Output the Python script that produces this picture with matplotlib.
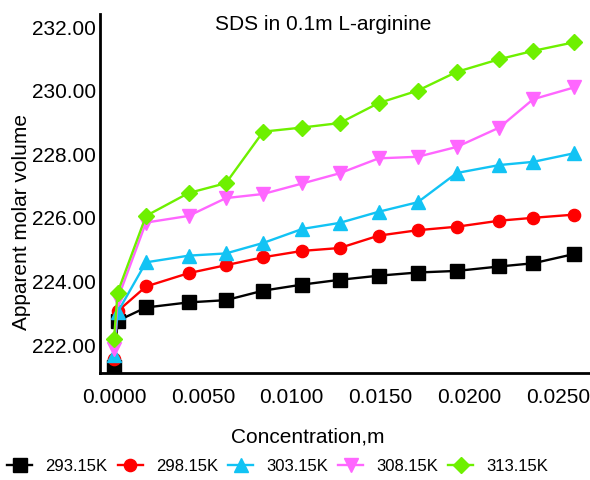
import matplotlib
matplotlib.use('Agg')
import matplotlib.pyplot as plt
from matplotlib.ticker import FormatStrFormatter

plt.rcParams['font.family'] = ['Liberation Sans', 'DejaVu Sans']

# SDS concentration (m) and apparent molar volumes at each temperature
Conc = [0.0, 0.0002, 0.0018, 0.0042, 0.0063, 0.0084, 0.0106, 0.0127,
        0.0149, 0.0171, 0.0193, 0.0217, 0.0236, 0.0259]

V293 = [221.28, 222.73, 223.15, 223.31, 223.38, 223.68, 223.87, 224.02,
        224.15, 224.25, 224.30, 224.44, 224.54, 224.83]
V298 = [221.53, 223.03, 223.81, 224.23, 224.48, 224.73, 224.93, 225.02,
        225.41, 225.58, 225.69, 225.88, 225.97, 226.07]
V303 = [221.65, 223.00, 224.57, 224.78, 224.85, 225.18, 225.62, 225.81,
        226.16, 226.46, 227.38, 227.63, 227.73, 228.00]
V308 = [221.85, 223.41, 225.82, 226.03, 226.59, 226.72, 227.05, 227.37,
        227.84, 227.89, 228.20, 228.81, 229.70, 230.07]
V313 = [222.16, 223.62, 226.03, 226.75, 227.06, 228.68, 228.81, 228.95,
        229.58, 229.97, 230.56, 230.96, 231.22, 231.49]

Temps = ['293.15K', '298.15K', '303.15K', '308.15K', '313.15K']

xTicks = [0.0, 0.005, 0.010, 0.015, 0.020, 0.025]
yTicks = [222, 224, 226, 228, 230, 232]

fig = plt.figure(figsize=(5.9, 4.81), dpi=100)
ax = fig.add_axes([0.1695, 0.2225, 0.8305, 0.7463])

ax.plot(Conc, V293, color='black', marker='s', markersize=9.4, linewidth=1.7, label=Temps[0])
ax.plot(Conc, V298, color='#ff0000', marker='o', markersize=8.8, linewidth=1.7, label=Temps[1])
ax.plot(Conc, V303, color='#12c3f4', marker='^', markersize=10, linewidth=1.7, label=Temps[2])
ax.plot(Conc, V308, color='#ff66ff', marker='v', markersize=10, linewidth=1.7, label=Temps[3])
ax.plot(Conc, V313, color='#6ef000', marker='D', markersize=8.2, linewidth=1.7, label=Temps[4])

ax.set_xlim(-0.00079, 0.0268)
ax.set_ylim(221.09, 232.38)

ax.set_xticks(xTicks)
ax.set_yticks(yTicks)
ax.xaxis.set_major_formatter(FormatStrFormatter('%.4f'))
ax.yaxis.set_major_formatter(FormatStrFormatter('%.2f'))
ax.tick_params(axis='x', length=0, pad=10, labelsize=15)
ax.tick_params(axis='y', length=0, pad=3, labelsize=15)

ax.spines['top'].set_visible(False)
ax.spines['right'].set_visible(False)
ax.spines['left'].set_linewidth(2)
ax.spines['bottom'].set_linewidth(2)

fig.text(323/590, 1 - 25/481, 'SDS in 0.1m L-arginine', ha='center', va='center', fontsize=15)
fig.text(308/590, 1 - 437/481, 'Concentration,m', ha='center', va='center', fontsize=15)
fig.text(22/590, 1 - 222/481, 'Apparent molar volume', ha='center', va='center',
         rotation=90, fontsize=15)

fig.legend(loc='center', bbox_to_anchor=(0.471, 1 - 467/481), ncol=5, frameon=False,
           fontsize=12, handlelength=1.5, handletextpad=0.8, columnspacing=0.6,
           borderaxespad=0)

fig.savefig('out.png', dpi=100)
